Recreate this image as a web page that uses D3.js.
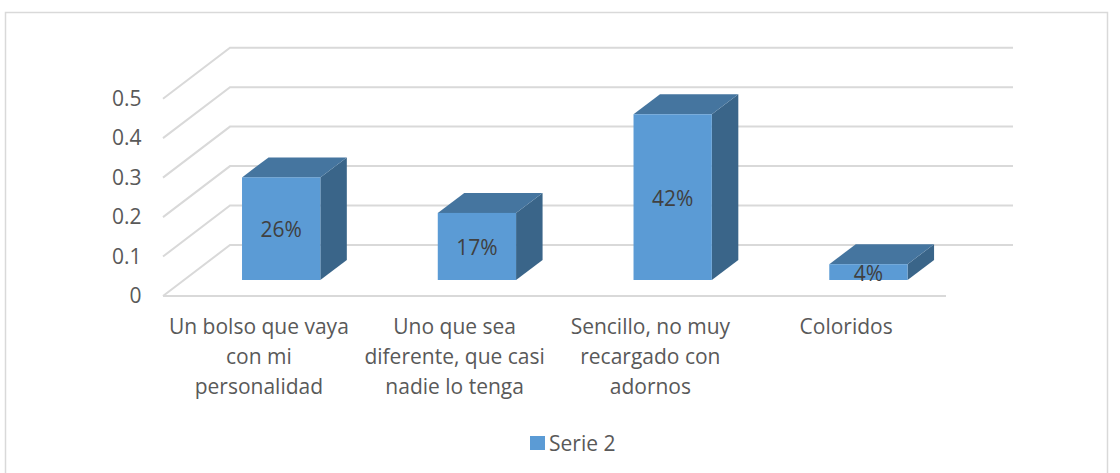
<!DOCTYPE html>
<html>
<head>
<meta charset="utf-8">
<script src="https://cdn.jsdelivr.net/npm/d3@7"></script>
<style>
  body { margin: 0; background: #fff; }
  text { font-family: "Open Sans", sans-serif; }
</style>
</head>
<body>
<div id="chart"></div>
<script>
// chart data
var categories = ["Un bolso que vaya con mi personalidad", "Uno que sea diferente, que casi nadie lo tenga", "Sencillo, no muy recargado con adornos", "Coloridos"];
var categoryLines = [
  ["Un bolso que vaya", "con mi", "personalidad"],
  ["Uno que sea", "diferente, que casi", "nadie lo tenga"],
  ["Sencillo, no muy", "recargado con", "adornos"],
  ["Coloridos"]
];
var values = [0.26, 0.17, 0.42, 0.04];
var valueLabels = ["26%", "17%", "42%", "4%"];
var yTicks = [0, 0.1, 0.2, 0.3, 0.4, 0.5];
var seriesName = "Serie 2";

var width = 1120, height = 473;

// front plane of the floor and the fake 3d depth
var wallDx = 67, wallDy = -51;   // front edge to back wall
var barDx = 20.3, barDy = -16;   // front edge to front of the bars
var sideDx = 26.5, sideDy = -20; // depth of one bar

var svg = d3.select("#chart")
  .append("svg")
    .attr("width", width)
    .attr("height", height);

svg.append("rect")
  .attr("x", 5.5)
  .attr("y", 12.5)
  .attr("width", 1102)
  .attr("height", 470)
  .attr("fill", "#fff")
  .attr("stroke", "#d9d9d9")
  .attr("stroke-width", 1.5);

var x = d3.scaleBand()
  .domain(categories)
  .range([163, 946])
  .paddingInner(0.6)
  .paddingOuter(0.3);

var y = d3.scaleLinear()
  .domain([0, 0.5])
  .range([296, 98.7]);

var gridColor = "#d9d9d9";

// left wall diagonals and back wall lines
var grid = svg.append("g");
grid.selectAll("path")
  .data(yTicks)
  .enter()
  .append("path")
    .attr("fill", "none")
    .attr("stroke", gridColor)
    .attr("stroke-width", 2)
    .attr("d", function(d) {
      var p = d3.path();
      p.moveTo(x.range()[0], y(d));
      p.lineTo(x.range()[0] + wallDx, y(d) + wallDy);
      p.lineTo(x.range()[1] + wallDx, y(d) + wallDy);
      return p.toString();
    });

// front edge of the floor
svg.append("line")
  .attr("x1", x.range()[0])
  .attr("x2", x.range()[1])
  .attr("y1", y(0))
  .attr("y2", y(0))
  .attr("stroke", gridColor)
  .attr("stroke-width", 2);

// y axis labels
var yAxis = svg.append("g")
  .attr("transform", "translate(147.5,0)")
  .call(d3.axisLeft(y).tickValues(yTicks).tickSize(0).tickPadding(6).tickFormat(d3.format("")));
yAxis.select(".domain").remove();
yAxis.selectAll("text")
  .attr("font-size", 21)
  .attr("fill", "#595959");

// bars
var bars = svg.append("g")
  .selectAll("g")
  .data(categories)
  .enter()
  .append("g")
    .attr("transform", "translate(" + barDx + "," + barDy + ")");

bars.append("path")
  .attr("fill", "#3a6589")
  .attr("d", function(d, i) {
    var xr = x(d) + x.bandwidth();
    return "M" + xr + "," + y(values[i]) +
      "l" + sideDx + "," + sideDy +
      "V" + (y(0) + sideDy) +
      "L" + xr + "," + y(0) + "Z";
  });

bars.append("path")
  .attr("fill", "#45759f")
  .attr("d", function(d, i) {
    var top = y(values[i]);
    return "M" + x(d) + "," + top +
      "l" + sideDx + "," + sideDy +
      "h" + x.bandwidth() +
      "l" + (-sideDx) + "," + (-sideDy) + "Z";
  });

bars.append("rect")
  .attr("x", function(d) { return x(d); })
  .attr("y", function(d, i) { return y(values[i]); })
  .attr("width", x.bandwidth())
  .attr("height", function(d, i) { return y(0) - y(values[i]); })
  .attr("fill", "#5b9bd5");

bars.append("text")
  .attr("x", function(d) { return x(d) + x.bandwidth() / 2; })
  .attr("y", function(d, i) { return (y(values[i]) + y(0)) / 2 + 8.5; })
  .attr("text-anchor", "middle")
  .attr("font-size", 21)
  .attr("fill", "#404040")
  .text(function(d, i) { return valueLabels[i]; });

// category labels
var labels = svg.append("g")
  .selectAll("text")
  .data(categories)
  .enter()
  .append("text")
    .attr("text-anchor", "middle")
    .attr("font-size", 21)
    .attr("fill", "#595959");

labels.selectAll("tspan")
  .data(function(d, i) {
    return categoryLines[i].map(function(t) { return {text: t, cat: d}; });
  })
  .enter()
  .append("tspan")
    .attr("x", function(d) { return x(d.cat) + x.bandwidth() / 2 - 2; })
    .attr("y", function(d, i) { return 334 + i * 30; })
    .text(function(d) { return d.text; });

// legend
svg.append("rect")
  .attr("x", 530)
  .attr("y", 436)
  .attr("width", 15)
  .attr("height", 14)
  .attr("fill", "#5b9bd5");

svg.append("text")
  .attr("x", 549)
  .attr("y", 451)
  .attr("font-size", 21)
  .attr("fill", "#595959")
  .text(seriesName);
</script>
</body>
</html>
